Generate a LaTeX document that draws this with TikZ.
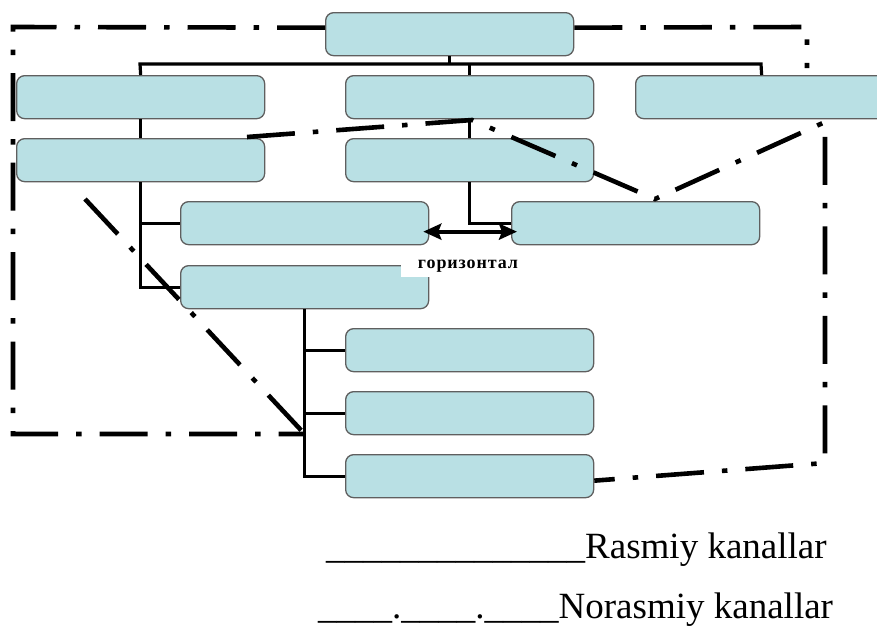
\documentclass[tikz,border=0pt]{standalone}
\usepackage{fontspec}
\setmainfont{Liberation Serif}
\usetikzlibrary{arrows.meta}

\definecolor{boxfill}{RGB}{185,224,228}
\definecolor{boxline}{RGB}{95,95,95}

\tikzset{
  orgbox/.style={draw=boxline, line width=1.3pt, fill=boxfill, rounded corners=8pt,
    minimum width=248pt, minimum height=43pt, inner sep=0pt, anchor=north west},
  conn/.style={draw=black, line width=3.2pt, line join=miter},
  informal/.style={draw=black, line width=4.6pt, line join=miter, line cap=butt,
    dash pattern=on 48pt off 18pt on 5.5pt off 18pt},
  biarrow/.style={draw=black, line width=3.8pt,
    {Stealth[length=18pt,width=16pt,inset=3pt]}-{Stealth[length=18pt,width=16pt,inset=3pt]},
    shorten <=-6pt, shorten >=-6pt},
  legend/.style={inner sep=0pt, anchor=base west, font=\fontsize{37}{40}\selectfont}
}

\begin{document}
\begin{tikzpicture}[x=1pt, y=-1pt]
  \useasboundingbox (0,0) rectangle (877,625);
  \clip (0,0) rectangle (877,625);

  % structure boxes
  \node[orgbox] (top) at (325,12) {};
  \node[orgbox] (A) at (16,75) {};
  \node[orgbox] (B) at (345,75) {};
  \node[orgbox, minimum width=252pt] (C) at (635,75) {};
  \node[orgbox] (D) at (16,138) {};
  \node[orgbox] (E) at (345,138) {};
  \node[orgbox] (F) at (180,201) {};
  \node[orgbox] (G) at (511,201) {};
  \node[orgbox] (H) at (180,265) {};
  \node[orgbox] (I) at (345,328) {};
  \node[orgbox] (J) at (345,391) {};
  \node[orgbox] (K) at (345,454) {};

  % formal channels
  \coordinate (busL) at (140,64);
  \coordinate (busR) at (761,64);
  \draw[conn] (top.south) -- (top.south |- busL);
  \draw[conn] (A.north) -- (busL) -- (busR) -- (C.north);
  \draw[conn] (B.north) -- (B.north |- busL);
  \draw[conn] (A.south) -- (D.north);
  \draw[conn] (D.south) -- (D.south |- H.west) -- (H.west);
  \draw[conn] (D.south |- F.west) -- (F.west);
  \draw[conn] (B.south) -- (E.north);
  \draw[conn] (E.south) -- (E.south |- G.west) -- (G.west);
  \draw[conn] (H.south) -- (H.south |- K.west) -- (K.west);
  \draw[conn] (H.south |- I.west) -- (I.west);
  \draw[conn] (H.south |- J.west) -- (J.west);

  % horizontal link
  \draw[biarrow] ([yshift=-8.5pt]F.east) -- ([yshift=-8.5pt]G.west);

  % horizontal label
  \node[fill=white, inner sep=0pt, minimum width=134pt, minimum height=29pt, anchor=north west]
    (lblbg) at (401,248) {};
  \node[inner sep=0pt, anchor=base, font=\fontsize{18}{20}\selectfont\bfseries\addfontfeatures{LetterSpace=5}]
    (lbl) at (468,268) {горизонтал};

  % informal channels
  \coordinate (tl) at (13,27);
  \coordinate (bl) at (13,434);
  \coordinate (hub) at (H.south |- bl);
  \coordinate (tr) at (807,27);
  \coordinate (trEnd) at (807,68);
  \coordinate (dStart) at (85,199);
  \coordinate (dCorner) at (247,137);
  \coordinate (bTurn) at (472,120);
  \coordinate (gTop) at (655,199);
  \coordinate (rTop) at (825,122);
  \coordinate (rBot) at (825,463);

  \draw[informal] ([yshift=6.5pt]top.west) -- (tl) -- (bl) -- (hub);
  \draw[informal] ([yshift=6.5pt]top.east) -- (tr) -- (trEnd);
  \draw[informal] (dStart) -- (hub);
  \draw[informal] (dCorner) -- (bTurn) -- (gTop) -- (rTop) -- (rBot) -- ([yshift=-4.5pt]K.east);

  % legend
  \node[legend] (leg1) at (326,558) {\_\_\_\_\_\_\_\_\_\_\_\_\_\_Rasmiy kanallar};
  \node[legend] (leg2) at (318,618) {\_\_\_\_.\_\_\_\_.\_\_\_\_Norasmiy kanallar};
\end{tikzpicture}
\end{document}
